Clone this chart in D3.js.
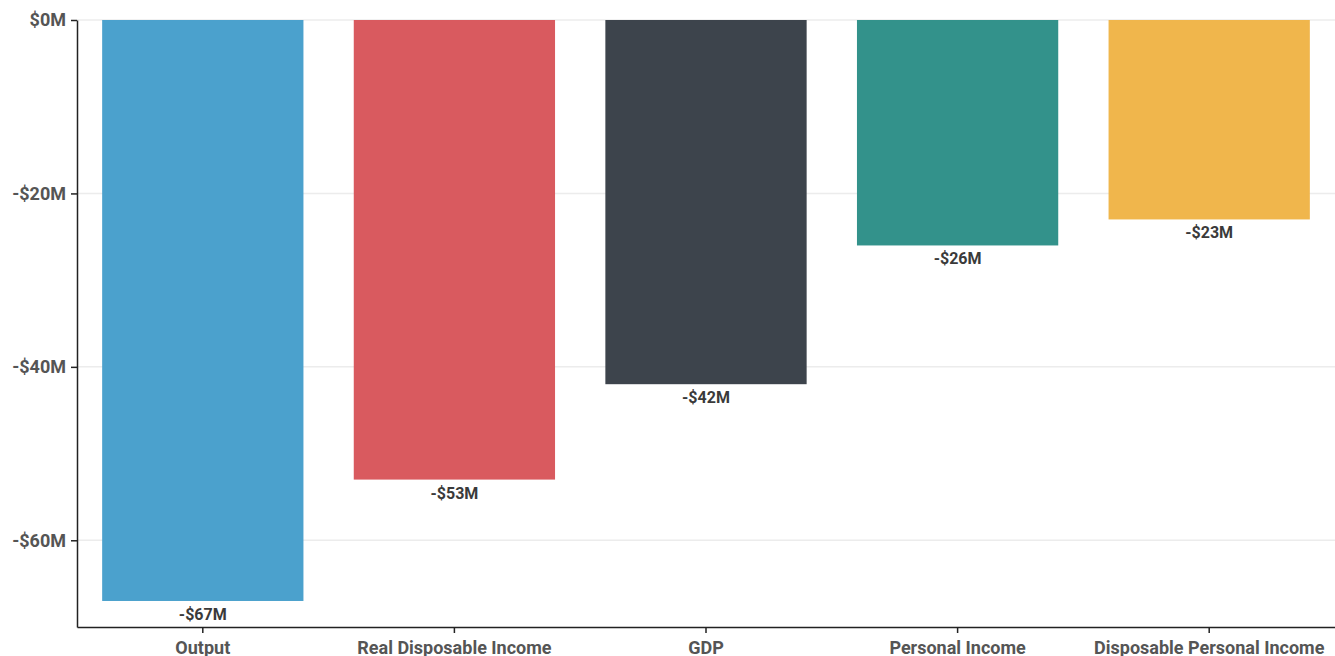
<!DOCTYPE html>
<html><head><meta charset="utf-8">
<script src="https://cdn.jsdelivr.net/npm/d3@7"></script>
<style>
body{margin:0;background:#fff;}
svg{display:block;font-family:Roboto,"Noto Sans",sans-serif;}
</style></head>
<body><svg id="c" width="1335" height="656"></svg>
<script>
const categories = ["Output","Real Disposable Income","GDP","Personal Income","Disposable Personal Income"];
const values = [-67,-53,-42,-26,-23];
const colors = ["#4ba1cd","#d95a5f","#3d444c","#33928b","#f0b64c"];
const yTicks = [0,-20,-40,-60];

const svg = d3.select("#c");
const m = {left:77, right:0, top:20, bottom:29};
const W = 1335, H = 656;
const x = d3.scaleBand().domain(categories).range([m.left, W-m.right]).paddingInner(0.2).paddingOuter(0.1);
const y = d3.scaleLinear().domain([-70,0]).range([H-m.bottom, m.top]);

// grid
svg.append("g").selectAll("line").data(yTicks).join("line")
  .attr("x1", m.left).attr("x2", W).attr("y1", d=>y(d)).attr("y2", d=>y(d))
  .attr("stroke","#ececec").attr("stroke-width",1.5);

// bars
svg.append("g").selectAll("rect").data(categories).join("rect")
  .attr("x", d=>x(d)).attr("width", x.bandwidth())
  .attr("y", y(0)).attr("height", (d,i)=>y(values[i])-y(0))
  .attr("fill",(d,i)=>colors[i]);

// value labels
svg.append("g").selectAll("text").data(categories).join("text")
  .attr("x", d=>x(d)+x.bandwidth()/2).attr("y",(d,i)=>y(values[i])+19)
  .attr("text-anchor","middle").attr("font-size",16).attr("font-weight",700).attr("fill","#3a3a3a")
  .text((d,i)=>"-$"+Math.abs(values[i])+"M");

// y axis
const ya = svg.append("g").attr("transform",`translate(${m.left},0)`)
  .call(d3.axisLeft(y).tickValues(yTicks).tickSize(6).tickSizeOuter(0).tickPadding(5).tickFormat(d=> (d<0?"-":"")+"$"+Math.abs(d)+"M"));
ya.selectAll("text").attr("font-size",18).attr("font-weight",700).attr("fill","#555").attr("font-family","Roboto");
ya.select(".domain").attr("stroke","#222").attr("stroke-width",1.5);
ya.selectAll(".tick line").attr("stroke","#222").attr("stroke-width",1.5);

// x axis
const xa = svg.append("g").attr("transform",`translate(0,${H-m.bottom})`)
  .call(d3.axisBottom(x).tickSize(6).tickSizeOuter(0).tickPadding(8));
xa.selectAll("text").attr("font-size",18).attr("font-weight",700).attr("fill","#555").attr("font-family","Roboto");
xa.select(".domain").attr("stroke","#222").attr("stroke-width",1.5);
xa.selectAll(".tick line").attr("stroke","#222").attr("stroke-width",1.5);
</script></body></html>
